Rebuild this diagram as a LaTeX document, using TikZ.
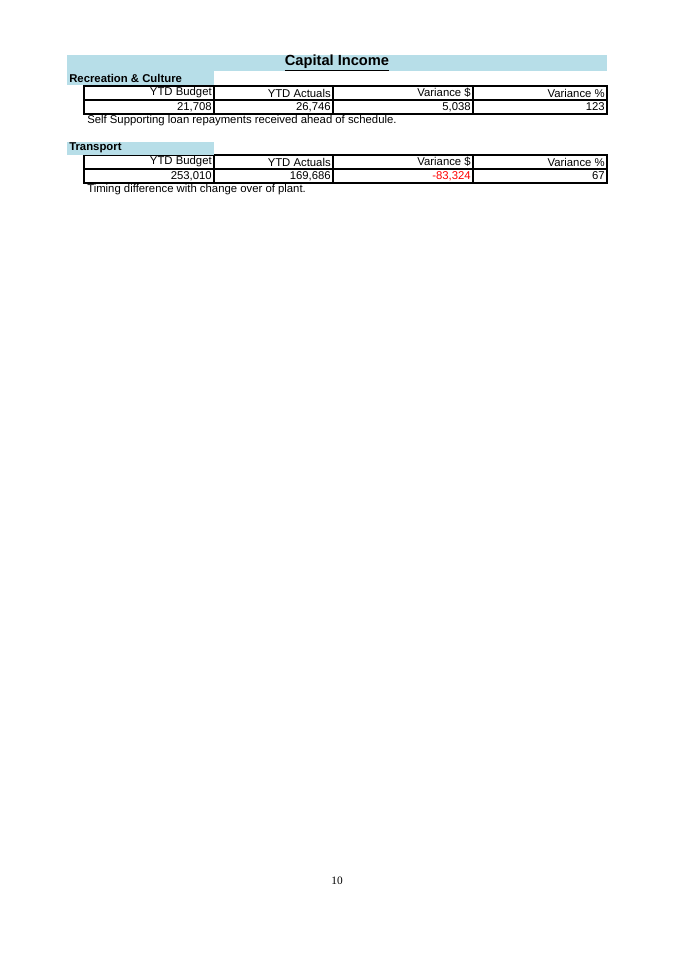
\documentclass[tikz,border=0pt]{standalone}
\usepackage{fontspec}
\setmainfont{Liberation Sans}
\newfontfamily\serifpn{Liberation Serif}
\begin{document}
\begin{tikzpicture}[x=0.75pt,y=-0.75pt,
  band/.style={fill=cyan!20!blue!10!white,draw=none},
  cell/.style={draw=black,line width=0.8pt},
  txt/.style={font=\fontsize{8.5}{10}\selectfont,inner sep=1.5pt},
  hdr/.style={font=\fontsize{8.5}{10}\selectfont\bfseries,inner sep=1.5pt,anchor=west}]
\useasboundingbox (0,0) rectangle (675,954);
\definecolor{bandc}{RGB}{183,222,232}
\fill[bandc] (67,55) rectangle (607,71);
\fill[bandc] (67,71) rectangle (214,85);
\node[font=\fontsize{11}{13}\selectfont\bfseries] (title) at (337,63) {\underline{Capital Income}};
\node[hdr] (h1) at (67,78) {Recreation \& Culture};
\foreach \y/\n in {86/a,155/b}{
  \draw[cell] (84,\y) rectangle (607,\y+28);
  \draw[cell] (84,\y+14) -- (607,\y+14);
  \foreach \xx in {214,333,473}{\draw[cell] (\xx,\y) -- (\xx,\y+28);}
}
\node[txt,anchor=east] (a1) at (214,93) {YTD Budget};
\node[txt,anchor=east] (a2) at (333,93) {YTD Actuals};
\node[txt,anchor=east] (a3) at (473,93) {Variance \$};
\node[txt,anchor=east] (a4) at (607,93) {Variance \%};
\node[txt,anchor=east] (a5) at (214,107) {21,708};
\node[txt,anchor=east] (a6) at (333,107) {26,746};
\node[txt,anchor=east] (a7) at (473,107) {5,038};
\node[txt,anchor=east] (a8) at (607,107) {123};
\node[txt,anchor=west] (n1) at (85,121) {Self Supporting loan repayments received ahead of schedule.};
\fill[bandc] (67,142) rectangle (214,155);
\node[hdr] (h2) at (67,148) {Transport};
\node[txt,anchor=east] (b1) at (214,162) {YTD Budget};
\node[txt,anchor=east] (b2) at (333,162) {YTD Actuals};
\node[txt,anchor=east] (b3) at (473,162) {Variance \$};
\node[txt,anchor=east] (b4) at (607,162) {Variance \%};
\node[txt,anchor=east] (b5) at (214,176) {253,010};
\node[txt,anchor=east] (b6) at (333,176) {169,686};
\node[txt,anchor=east,text=red] (b7) at (473,176) {-83,324};
\node[txt,anchor=east] (b8) at (607,176) {67};
\node[txt,anchor=west] (n2) at (85,190) {Timing difference with change over of plant.};
\node[font=\serifpn\fontsize{8.5}{10}\selectfont] (pg) at (337,881) {10};
\end{tikzpicture}
\end{document}
